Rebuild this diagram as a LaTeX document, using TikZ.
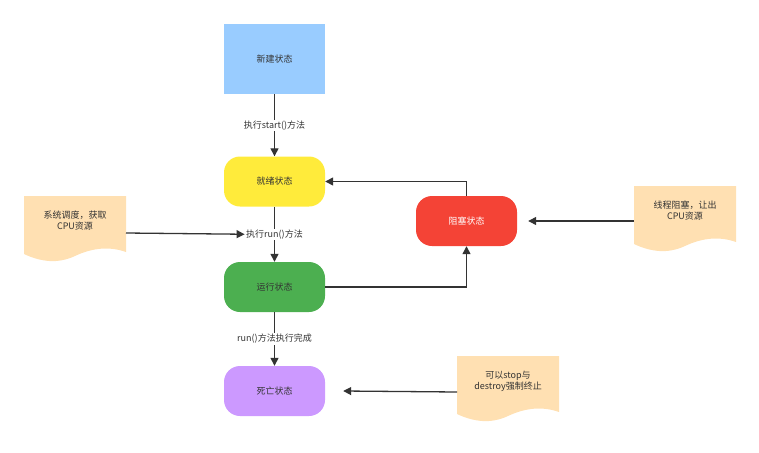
\documentclass[tikz,border=0pt]{standalone}
\usepackage{fontspec}
\setmainfont{Noto Sans CJK SC}
\usetikzlibrary{arrows.meta}
\definecolor{cblue}{HTML}{99CCFF}
\definecolor{cyellow}{HTML}{FFEB3B}
\definecolor{cgreen}{HTML}{4CAF50}
\definecolor{cpurple}{HTML}{CC99FF}
\definecolor{cred}{HTML}{F44336}
\definecolor{cdoc}{HTML}{FFE0B2}
\definecolor{ctext}{HTML}{333333}
\begin{document}
\begin{tikzpicture}[x=1pt,y=-1pt,
  every node/.style={font=\fontsize{9}{11}\selectfont, text=ctext},
  state/.style={minimum width=101pt, minimum height=50pt, rounded corners=16pt, draw=none},
  lbl/.style={fill=white, inner sep=1pt},
  conn/.style={draw=ctext, line width=1.3pt, -{Triangle[length=8pt,width=8pt]}},
  line/.style={draw=ctext, line width=1.3pt},
  doc/.pic={\fill[cdoc] (0,0) -- (102,0) -- (102,56) .. controls (85,50) and (68,52) .. (51,60) .. controls (34,68) and (17,66) .. (0,58) -- cycle;}
]
\useasboundingbox (0,0) rectangle (759,452);
\node[minimum width=101pt,minimum height=70pt,fill=cblue] (new) at (274.5,59) {新建状态};
\node[state,fill=cyellow] (ready) at (274.5,181.5) {就绪状态};
\node[state,fill=cgreen] (run) at (274.5,287) {运行状态};
\node[state,fill=cpurple] (dead) at (274.5,391) {死亡状态};
\node[state,fill=cred,text=white] (block) at (466.5,221) {阻塞状态};
\pic at (24,196) {doc};
\pic at (634,186) {doc};
\pic at (457,356) {doc};
\node[align=center] (d1) at (75,221) {系统调度，获取\\CPU资源};
\node[align=center] (d2) at (685,211) {线程阻塞，让出\\CPU资源};
\node[align=center] (d3) at (508,381) {可以stop与\\destroy强制终止};
\coordinate (d1r) at (126,233);
\coordinate (d2l) at (634,221);
\coordinate (d3l) at (457,392);
\draw[conn] (new) -- node[lbl] (l1) {执行start()方法} (ready);
\draw[conn] (ready) -- node[lbl] (l2) {执行run()方法} (run);
\draw[conn] (run) -- node[lbl] (l3) {run()方法执行完成} (dead);
\draw[conn] (run.east) -| (block.south);
\draw[conn] (block.north) |- (ready.east);
\draw[conn] (d1r) -- (l2.west);
\draw[conn] (d2l) -- ([xshift=11pt]block.east);
\draw[conn] (d3l) -- ([xshift=18pt]dead.east);
\end{tikzpicture}
\end{document}
